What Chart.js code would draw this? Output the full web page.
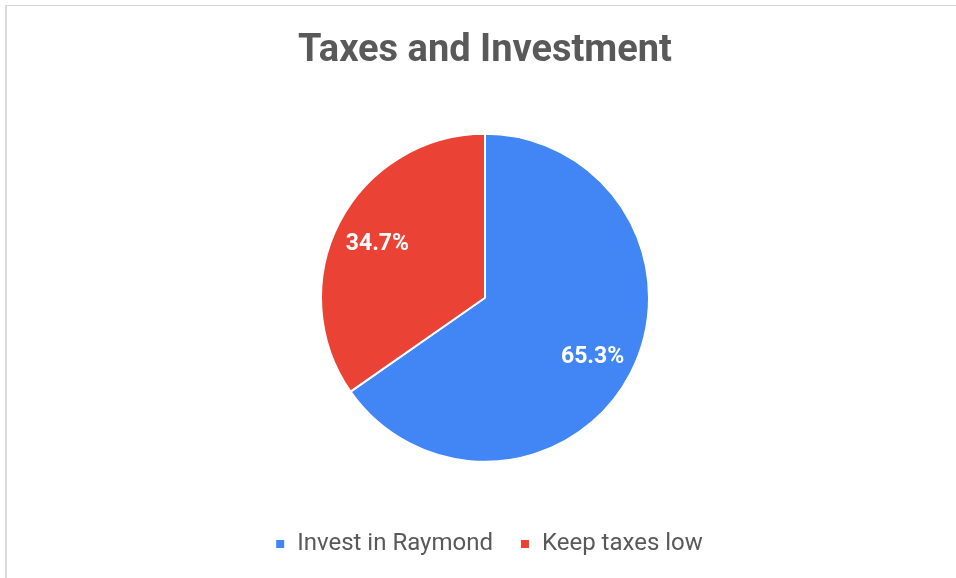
<!DOCTYPE html>
<html>
<head>
<meta charset="utf-8">
<script src="https://cdn.jsdelivr.net/npm/chart.js@4"></script>
<style>
  html, body { margin: 0; padding: 0; background: #fff; overflow: hidden; }
  #wrap { position: relative; width: 956px; height: 578px; }
  #frame {
    position: absolute; left: 5px; top: 5px; width: 1000px; height: 1000px;
    border-left: 2px solid #dcdcdc; border-top: 1px solid #d4d4d4;
    pointer-events: none;
  }
  canvas { position: absolute; left: 0; top: 0; }
</style>
</head>
<body>
<div id="wrap">
  <canvas id="myChart" width="956" height="578"></canvas>
  <div id="frame"></div>
</div>
<script>
// Chart data
const labels = ['Invest in Raymond', 'Keep taxes low'];
const values = [65.3, 34.7];
const colors = ['#4285F4', '#EA4335'];
const chartTitle = 'Taxes and Investment';

// Percent labels drawn inside the slices
const sliceLabels = {
    id: 'sliceLabels',
    afterDatasetsDraw(chart) {
        const ctx = chart.ctx;
        const meta = chart.getDatasetMeta(0);
        const data = chart.data.datasets[0].data;
        const total = data.reduce((a, b) => a + b, 0);
        ctx.save();
        ctx.fillStyle = '#ffffff';
        ctx.font = 'bold 23px Roboto';
        ctx.textAlign = 'center';
        ctx.textBaseline = 'middle';
        meta.data.forEach((arc, i) => {
            const p = arc.getProps(['x', 'y', 'startAngle', 'endAngle', 'outerRadius'], true);
            const mid = (p.startAngle + p.endAngle) / 2;
            const r = p.outerRadius * 0.74;
            const text = (data[i] / total * 100).toFixed(1) + '%';
            ctx.fillText(text, p.x + Math.cos(mid) * r, p.y + Math.sin(mid) * r + 3);
        });
        ctx.restore();
    }
};

// nudge the legend a bit to the right, like the original
const legendShift = {
    id: 'legendShift',
    afterLayout(chart) {
        chart.legend.left += 4;
        chart.legend.right += 4;
    }
};

const config = {
    type: 'pie',
    data: {
        labels: labels,
        datasets: [{
            data: values,
            backgroundColor: colors,
            borderColor: '#ffffff',
            borderWidth: 2,
            radius: 164,
        }],
    },
    options: {
        responsive: false,
        animation: false,
        layout: {
            padding: { left: 14, right: 0, top: 0, bottom: 12 },
        },
        plugins: {
            title: {
                display: true,
                text: chartTitle,
                color: '#595959',
                font: { family: 'Roboto', size: 38, weight: 'bold' },
                padding: { top: 29, bottom: 16 },
            },
            legend: {
                position: 'bottom',
                labels: {
                    usePointStyle: true,
                    pointStyle: 'rect',
                    boxWidth: 10,
                    boxHeight: 10,
                    padding: 27,
                    color: '#595959',
                    font: { family: 'Roboto', size: 24 },
                },
            },
            tooltip: { enabled: false },
        },
    },
    plugins: [sliceLabels, legendShift],
};

const ctx = document.getElementById('myChart').getContext('2d');
const myChart = new Chart(ctx, config);
</script>
</body>
</html>
